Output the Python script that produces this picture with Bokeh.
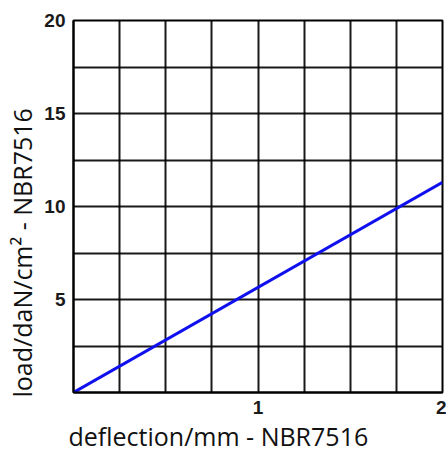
from bokeh.plotting import figure
from bokeh.models import FixedTicker, Title
from bokeh.embed import file_html
from bokeh.resources import INLINE

# data
deflection = [0.0, 2.0]
load = [0.0, 11.3]
x_tick_values = [1, 2]
y_tick_values = [5, 10, 15, 20]
x_grid_values = [0.25, 0.5, 0.75, 1.0, 1.25, 1.5, 1.75]
y_grid_values = [2.5, 5, 7.5, 10, 12.5, 15, 17.5]
x_title = "deflection/mm - NBR7516"
y_title = "load/daN/cm\u00b2 - NBR7516"

p = figure(width=446, height=456, x_range=(0, 2), y_range=(0, 20),
           output_backend="svg", toolbar_location=None,
           min_border_left=73, min_border_right=4, min_border_top=20, min_border_bottom=64)
p.background_fill_color = "white"
p.border_fill_color = "white"
p.outline_line_color = "black"
p.outline_line_width = 2

for ax, ticks in ((p.xaxis[0], x_tick_values), (p.yaxis[0], y_tick_values)):
    ax.ticker = FixedTicker(ticks=ticks)
    ax.axis_line_color = "black"
    ax.axis_line_width = 2
    ax.major_tick_out = 0
    ax.major_tick_in = 0
    ax.minor_tick_out = 0
    ax.minor_tick_in = 0
    ax.major_label_text_font = "Liberation Sans"
    ax.major_label_text_font_style = "bold"
    ax.major_label_text_font_size = "19px"
    ax.major_label_text_color = "#1a1a1a"
    ax.major_label_standoff = 8

p.xgrid[0].ticker = FixedTicker(ticks=x_grid_values)
p.ygrid[0].ticker = FixedTicker(ticks=y_grid_values)
for g in (p.xgrid[0], p.ygrid[0]):
    g.grid_line_color = "black"
    g.grid_line_width = 2
    g.grid_line_alpha = 0.9

p.line(deflection, load, line_color="#1010ee", line_width=3)

p.add_layout(Title(text=x_title, align="left", offset=-5, standoff=1,
                   text_font="Open Sans", text_font_size="25px", text_font_style="normal",
                   text_color="#111111"), "below")
p.add_layout(Title(text=y_title, align="left", offset=-5, standoff=5,
                   text_font="Open Sans", text_font_size="25px", text_font_style="normal",
                   text_color="#111111"), "left")

open("out.html", "w").write(file_html(p, INLINE))
